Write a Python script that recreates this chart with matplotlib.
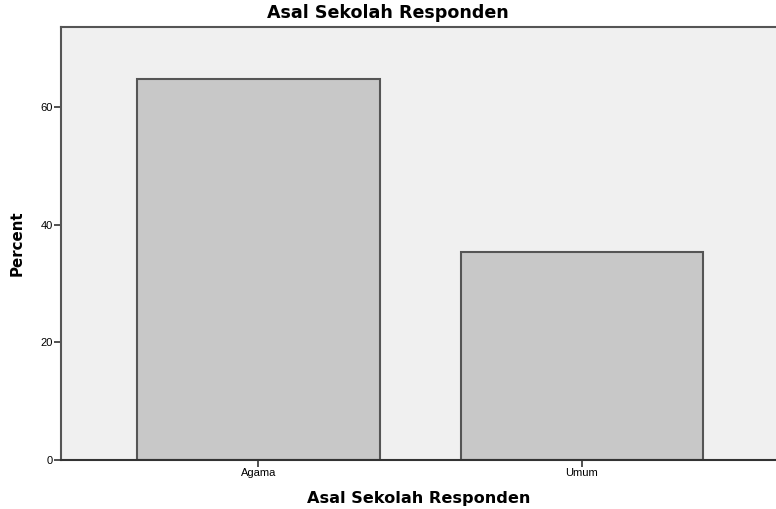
import matplotlib
matplotlib.use("Agg")
import matplotlib.pyplot as plt

categories = ["Agama", "Umum"]
percent = [64.7, 35.3]
yticks = [0, 20, 40, 60]

plt.rcParams['font.family'] = ['Liberation Sans', 'DejaVu Sans']

fig = plt.figure(figsize=(7.76, 5.09), dpi=100)
ax = fig.add_axes([61/776, 49/509, 1 - 61/776, 433/509])
ax.set_facecolor('#f0f0f0')
x = list(range(len(categories)))
ax.bar(x, percent, width=0.75, color='#c8c8c8', edgecolor='#555555', linewidth=1.5)
ax.set_xlim(-0.61, 1.6)
ax.set_ylim(0, 73.6)
ax.set_xticks(x)
ax.set_xticklabels(categories, fontsize=8)
ax.set_yticks(yticks)
ax.set_yticklabels([str(v) for v in yticks], fontsize=8)
ax.tick_params(axis='both', length=5, width=1.2, color='#333333', pad=1)
for s in ['left', 'bottom', 'top']:
    ax.spines[s].set_color('#555555')
    ax.spines[s].set_linewidth(1.5)
ax.spines['bottom'].set_color('#333333')
ax.spines['right'].set_visible(False)
ax.set_xlabel("Asal Sekolah Responden", fontsize=11.6, fontweight='bold',
              family='DejaVu Sans', labelpad=9)
ax.set_ylabel("Percent", fontsize=10.8, fontweight='bold',
              family='DejaVu Sans', labelpad=11)
fig.text(0.5, 1 - 13/509, "Asal Sekolah Responden", ha='center', va='center',
         fontsize=12.6, fontweight='bold', family='DejaVu Sans')
fig.savefig("out.png", dpi=100, facecolor='white')
